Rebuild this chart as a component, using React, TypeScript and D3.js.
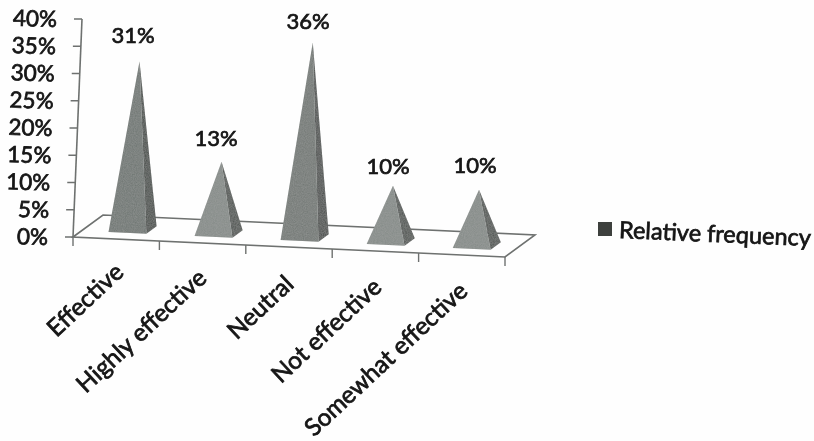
import React from "react";
import * as d3 from "d3";

const categories = ["Effective", "Highly effective", "Neutral", "Not effective", "Somewhat effective"];
const values = [31, 13, 36, 10, 10];
const frontShades = ["#6c736f", "#838986", "#6f7672", "#838986", "#838986"];
const sideShades = ["#434845", "#4c514e", "#464b48", "#4c514e", "#4c514e"];
const yTicks = [0, 5, 10, 15, 20, 25, 30, 35, 40];
const seriesName = "Relative frequency";

const W = 814;
const H = 441;
const font = "Lato, 'Open Sans', sans-serif";
const origin: [number, number] = [73, 237];
const alongEnd: [number, number] = [505, 257];
const depth: [number, number] = [30, -22];
const axisTop: [number, number] = [82, 19];

const u = d3.scaleBand<string>().domain(categories).range([0.005, 1.005]).paddingInner(0.56).paddingOuter(0.29);
const tickU = d3.scaleLinear().domain([0, categories.length]).range([0, 1]);
const yX = d3.scaleLinear().domain([0, 40]).range([origin[0], axisTop[0]]);
const yY = d3.scaleLinear().domain([0, 40]).range([origin[1], axisTop[1]]);
const rise = d3.scaleLinear().domain([0, 40]).range([2, 216]);
const lean = d3.scaleLinear().domain([0, 40]).range([0, 9]);
const line = d3.line();

function floor(a: number, v: number): [number, number] {
  return [
    origin[0] + a * (alongEnd[0] - origin[0]) + v * depth[0],
    origin[1] + a * (alongEnd[1] - origin[1]) + v * depth[1],
  ];
}

const labelAnchors: [number, number][] = [
  [112, 260], [195, 266], [282, 272], [370, 275], [456, 279],
];
const valueLabels: [number, number][] = [
  [133, 43], [216, 146], [308, 29], [388, 174], [475, 173],
];
const ink = "#141414";
const textStyle = { fontWeight: 400, stroke: ink, strokeWidth: 0.7 };

export default function App() {
  return (
    <svg width={W} height={H} viewBox={`0 0 ${W} ${H}`} style={{ position: "absolute", left: 0, top: 0, background: "#fefefe" }} fontFamily={font}>
      <defs>
        <filter id="scan" x="-5%" y="-5%" width="110%" height="110%">
          <feGaussianBlur stdDeviation="0.45" />
        </filter>
        <filter id="grain" x="-5%" y="-5%" width="110%" height="110%">
          <feTurbulence type="fractalNoise" baseFrequency="0.9" numOctaves="2" seed="4" result="n" />
          <feColorMatrix in="n" type="matrix" values="0 0 0 0 0.5  0 0 0 0 0.5  0 0 0 0 0.5  0 0 0 0.35 0" result="g" />
          <feComposite in="g" in2="SourceGraphic" operator="in" result="gi" />
          <feMerge><feMergeNode in="SourceGraphic" /><feMergeNode in="gi" /></feMerge>
        </filter>
      </defs>
      <g filter="url(#scan)">
        <path
          d={line([floor(0, 0), floor(0, 1), floor(1, 1), floor(1, 0)]) + "Z"}
          fill="#fefefe" stroke="#6e716f" strokeWidth={1.6}
        />
        <path d={line([origin, axisTop])!} stroke="#6e716f" strokeWidth={1.6} fill="none" />
        {yTicks.map((t) => (
          <path key={t} d={line([[yX(t) - 8, yY(t)], [yX(t), yY(t)]])!} stroke="#6e716f" strokeWidth={1.5} />
        ))}
        {d3.range(categories.length + 1).map((i) => {
          const p = floor(tickU(i), 0);
          return <path key={i} d={line([p, [p[0], p[1] + 9]])!} stroke="#6e716f" strokeWidth={1.4} />;
        })}
        {categories.map((c, i) => {
          const a0 = u(c)!;
          const a1 = a0 + u.bandwidth();
          const fl = floor(a0, 0.28);
          const fr = floor(a1, 0.28);
          const br = floor(a1, 0.62);
          const cx = (fl[0] + br[0]) / 2;
          const cy = (fl[1] + br[1]) / 2;
          const apex: [number, number] = [cx + lean(values[i]), cy - rise(values[i])];
          return (
            <g key={c} filter="url(#grain)">
              <path d={line([fr, br, apex])! + "Z"} fill={sideShades[i]} />
              <path d={line([fl, fr, apex])! + "Z"} fill={frontShades[i]} />
            </g>
          );
        })}
        {yTicks.map((t) => (
          <text key={t} x={yX(t) - 25} y={yY(t) + 8} textAnchor="end" fontSize={22.5} fill={ink} style={textStyle}
            transform={`rotate(1.5 ${yX(t) - 25} ${yY(t)})`}>
            {`${t}%`}
          </text>
        ))}
        {values.map((v, i) => (
          <text key={i} x={valueLabels[i][0]} y={valueLabels[i][1]} textAnchor="middle" fontSize={22} fill={ink} style={textStyle}>
            {`${v}%`}
          </text>
        ))}
        {categories.map((c, i) => (
          <text key={c} x={labelAnchors[i][0]} y={labelAnchors[i][1]} textAnchor="end" fontSize={24.3} fill={ink} style={textStyle}
            dominantBaseline="hanging"
            transform={`rotate(-43 ${labelAnchors[i][0]} ${labelAnchors[i][1]})`}>
            {c}
          </text>
        ))}
        <rect x={598} y={222} width={14} height={14} fill="#3d403e" />
        <text x={619} y={238} fontSize={23.5} fill={ink} style={textStyle} transform="rotate(2.4 619 232)">
          {seriesName}
        </text>
      </g>
    </svg>
  );
}
